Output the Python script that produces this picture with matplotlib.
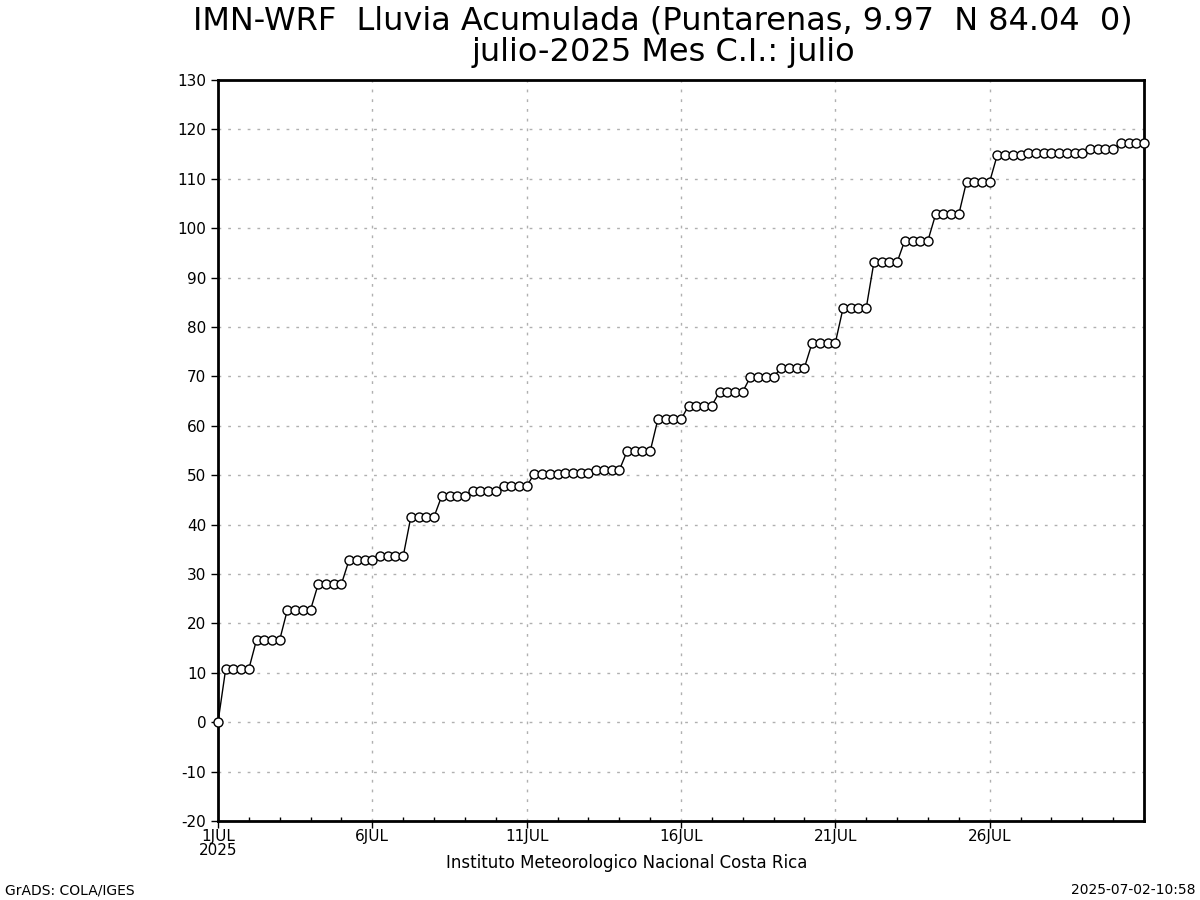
import matplotlib
matplotlib.use("Agg")
import matplotlib.pyplot as plt

# accumulated rain (mm), 6-hourly from 1JUL 00Z to 31JUL 00Z
rain_acc = [
    0.0,
    10.8, 10.8, 10.8, 10.8,
    16.7, 16.7, 16.7, 16.7,
    22.8, 22.8, 22.8, 22.8,
    28.0, 28.0, 28.0, 28.0,
    32.9, 32.9, 32.9, 32.9,
    33.6, 33.6, 33.6, 33.6,
    41.6, 41.6, 41.6, 41.6,
    45.8, 45.8, 45.8, 45.8,
    46.9, 46.9, 46.9, 46.9,
    47.8, 47.8, 47.8, 47.8,
    50.3, 50.3, 50.3, 50.3,
    50.5, 50.5, 50.5, 50.5,
    51.0, 51.0, 51.0, 51.0,
    54.8, 54.8, 54.8, 54.8,
    61.3, 61.3, 61.3, 61.3,
    64.1, 64.1, 64.1, 64.1,
    66.9, 66.9, 66.9, 66.9,
    69.9, 69.9, 69.9, 69.9,
    71.8, 71.8, 71.8, 71.8,
    76.8, 76.8, 76.8, 76.8,
    83.8, 83.8, 83.8, 83.8,
    93.1, 93.1, 93.1, 93.1,
    97.5, 97.5, 97.5, 97.5,
    102.8, 102.8, 102.8, 102.8,
    109.4, 109.4, 109.4, 109.4,
    114.9, 114.9, 114.9, 114.9,
    115.2, 115.2, 115.2, 115.2,
    115.3, 115.3, 115.3, 115.3,
    116.0, 116.0, 116.0, 116.0,
    117.2, 117.2, 117.2, 117.2,
]
step_hours = 6
day_ticks = [0, 5, 10, 15, 20, 25]
day_labels = ["1JUL\n2025", "6JUL", "11JUL", "16JUL", "21JUL", "26JUL"]
y_ticks = list(range(-20, 131, 10))

title = "IMN-WRF  Lluvia Acumulada (Puntarenas, 9.97  N 84.04  0)\njulio-2025 Mes C.I.: julio"

plt.rcParams["font.family"] = ["DejaVu Sans"]

days = [i * step_hours / 24 for i in range(len(rain_acc))]

fig = plt.figure(figsize=(12, 9), dpi=100)
ax = fig.add_axes([218 / 1200, 1 - 821 / 900, (1144 - 218) / 1200, (821 - 80) / 900])

ax.plot(days, rain_acc, color="black", linewidth=1, marker="o", markersize=6.5,
        markerfacecolor="white", markeredgecolor="black", markeredgewidth=1,
        clip_on=False, zorder=3)

ax.set_xlim(0, 30)
ax.set_ylim(-20, 130)
ax.set_yticks(y_ticks)
ax.set_yticklabels([str(v) for v in y_ticks], fontsize=11)
ax.set_xticks(day_ticks)
ax.set_xticklabels(day_labels, fontsize=11, linespacing=0.9)
ax.set_xticks(range(0, 31), minor=True)
ax.tick_params(axis="both", which="major", direction="out", length=5, width=1)
ax.tick_params(axis="x", which="minor", direction="in", length=3, width=1)
ax.tick_params(axis="x", pad=1)

ax.grid(True, which="major", color="#b0b0b0", linestyle=(0, (2, 5)), linewidth=1)
for sp in ax.spines.values():
    sp.set_linewidth(2)
    sp.set_color("black")

fig.text(663 / 1200, 1 - 37 / 900, title, ha="center", va="center",
         fontsize=23, linespacing=1.0)
fig.text(627 / 1200, 1 - 863 / 900, "Instituto Meteorologico Nacional Costa Rica",
         ha="center", va="center", fontsize=12)
fig.text(5 / 1200, 1 - 890 / 900, "GrADS: COLA/IGES", ha="left", va="center", fontsize=10)
fig.text(1196 / 1200, 1 - 890 / 900, "2025-07-02-10:58", ha="right", va="center", fontsize=10)

fig.savefig("out.png", dpi=100)
